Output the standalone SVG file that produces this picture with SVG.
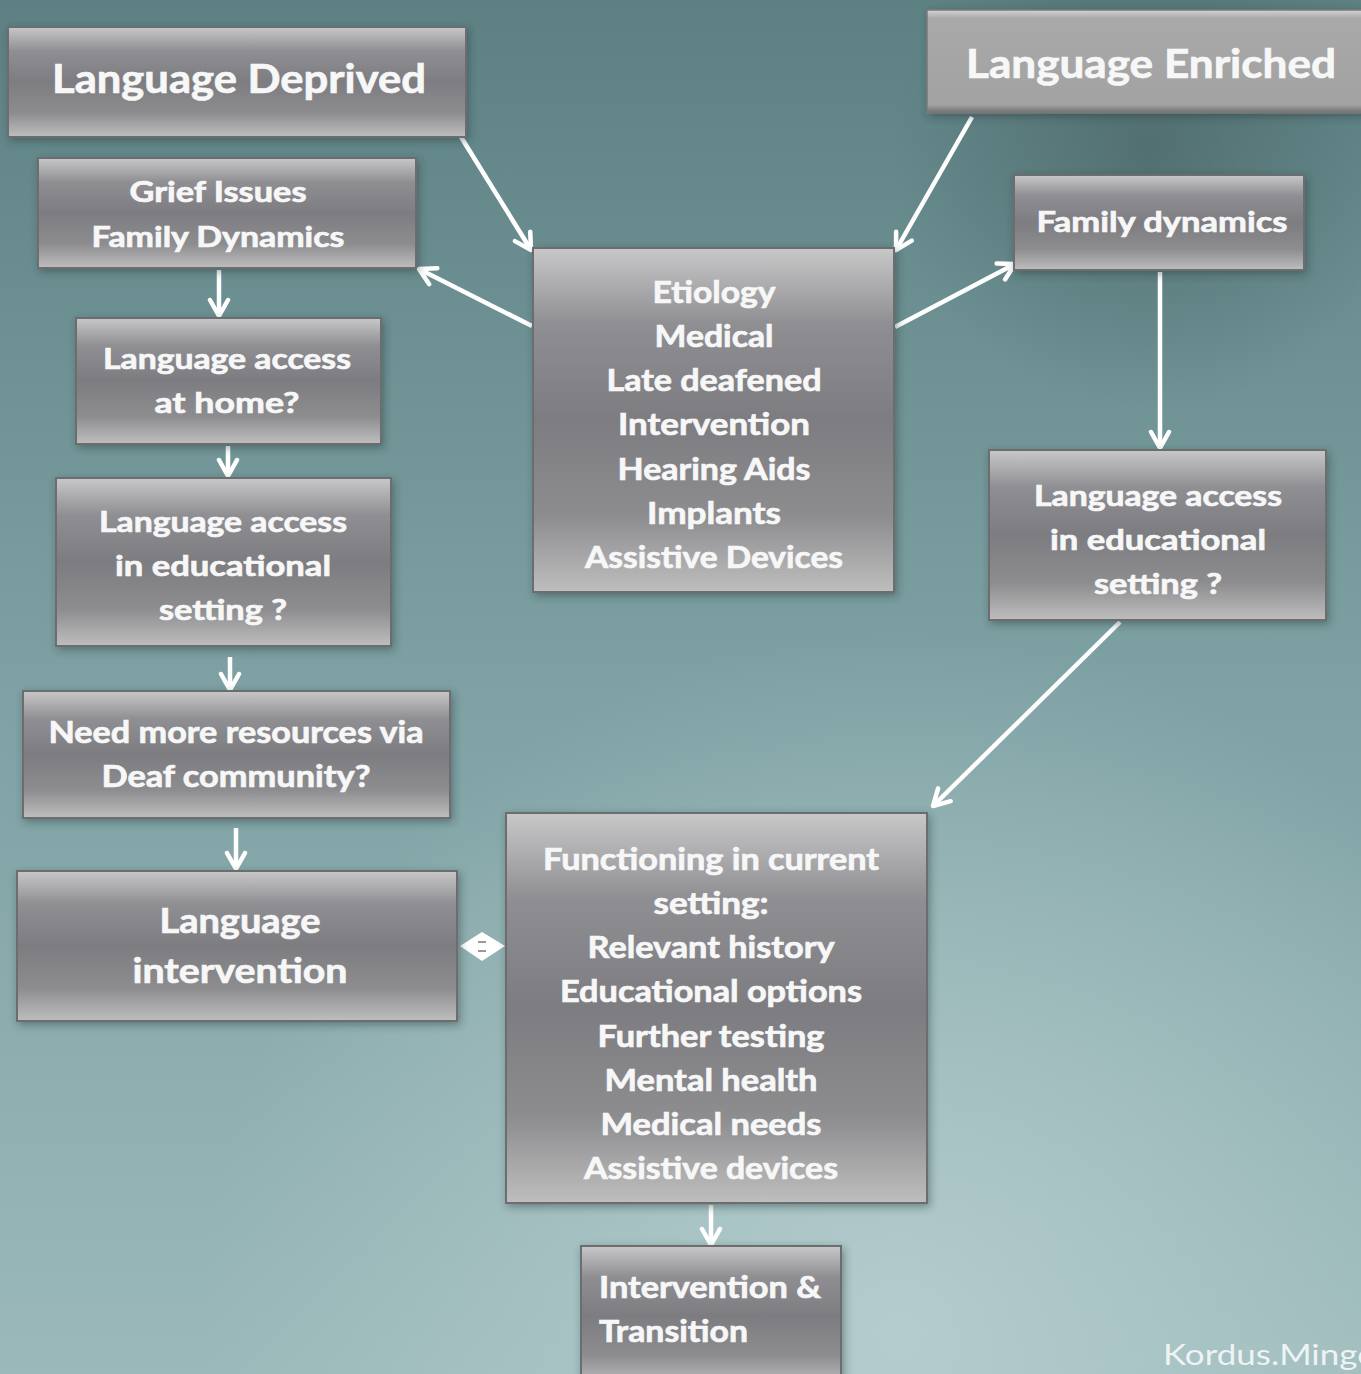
<svg xmlns="http://www.w3.org/2000/svg" width="1361" height="1374" viewBox="0 0 1361 1374">
<defs>
<linearGradient id="bg" x1="0" y1="0" x2="0" y2="1">
<stop offset="0" stop-color="#5d8183"/>
<stop offset="0.5" stop-color="#7ea1a3"/>
<stop offset="1" stop-color="#9bb9ba"/>
</linearGradient>
<radialGradient id="glow" cx="900" cy="1330" r="700" gradientUnits="userSpaceOnUse">
<stop offset="0" stop-color="#b6cecf" stop-opacity="0.9"/>
<stop offset="1" stop-color="#b6cecf" stop-opacity="0"/>
</radialGradient>
<radialGradient id="shade" cx="1150" cy="150" r="260" gradientUnits="userSpaceOnUse">
<stop offset="0" stop-color="#3c5253" stop-opacity="0.45"/>
<stop offset="1" stop-color="#3c5253" stop-opacity="0"/>
</radialGradient>
<linearGradient id="box" x1="0" y1="0" x2="0" y2="1">
<stop offset="0" stop-color="#c8c8c9"/>
<stop offset="0.22" stop-color="#8f8f93"/>
<stop offset="0.5" stop-color="#7d7d81"/>
<stop offset="0.78" stop-color="#8d8d90"/>
<stop offset="1" stop-color="#bebebe"/>
</linearGradient>
<linearGradient id="flat" x1="0" y1="0" x2="0" y2="1">
<stop offset="0" stop-color="#d4d4d4"/>
<stop offset="0.08" stop-color="#a9a9a9"/>
<stop offset="0.92" stop-color="#a2a2a2"/>
<stop offset="1" stop-color="#6e6e6e"/>
</linearGradient>
<filter id="sh" x="-10%" y="-10%" width="120%" height="125%">
<feDropShadow dx="2" dy="3" stdDeviation="4" flood-color="#203030" flood-opacity="0.45"/>
</filter>
<marker id="ah" viewBox="0 0 24 24" refX="21" refY="12" markerWidth="24" markerHeight="24" markerUnits="userSpaceOnUse" orient="auto">
<path d="M5,3 L21,12 L5,21" fill="none" stroke="#ffffff" stroke-width="4.5" stroke-linecap="round" stroke-linejoin="round"/>
</marker>
<style>
.b{fill:url(#box);stroke:#6d6d70;stroke-width:2;filter:url(#sh)}
.t{font-family:Lato,"Open Sans","Liberation Sans",sans-serif;font-weight:700;fill:#f7f7f7;stroke:#f7f7f7;stroke-width:0.7;text-anchor:middle}
.tl{font-family:Lato,"Open Sans","Liberation Sans",sans-serif;font-weight:700;fill:#f7f7f7;stroke:#f7f7f7;stroke-width:0.7;text-anchor:start}
.c{stroke:#ffffff;stroke-width:4.5;fill:none;marker-end:url(#ah)}
</style>
</defs>
<rect x="0" y="0" width="1361" height="1374" fill="url(#bg)"/>
<rect x="0" y="0" width="1361" height="1374" fill="url(#glow)"/>
<rect x="0" y="0" width="1361" height="1374" fill="url(#shade)"/>

<g id="connectors">
<line class="c" x1="461" y1="137" x2="531" y2="250"/>
<line class="c" x1="972" y1="117" x2="896" y2="250"/>
<line class="c" x1="532" y1="326" x2="419" y2="269"/>
<line class="c" x1="895" y1="327" x2="1015" y2="264"/>
<line class="c" x1="219" y1="270" x2="219" y2="316"/>
<line class="c" x1="228" y1="446" x2="228" y2="476"/>
<line class="c" x1="230" y1="657" x2="230" y2="690"/>
<line class="c" x1="236" y1="828" x2="236" y2="869"/>
<line class="c" x1="1160" y1="272" x2="1160" y2="448"/>
<line class="c" x1="1120" y1="622" x2="933" y2="806"/>
<line class="c" x1="711" y1="1205" x2="711" y2="1245"/>
<g id="double-arrow">
<polygon points="460,946 482,932 505,946 482,961" fill="#ffffff"/>
<rect x="478" y="941" width="8" height="2" fill="#9a9a9a"/>
<rect x="478" y="950" width="8" height="2" fill="#9a9a9a"/>
</g>
</g>

<g id="language-deprived">
<rect class="b" x="8" y="27" width="458" height="110"/>
<text class="t" x="239" y="93" font-size="40" textLength="374" lengthAdjust="spacingAndGlyphs">Language Deprived</text>
</g>

<g id="language-enriched">
<rect x="927" y="10" width="440" height="103" fill="url(#flat)" stroke="#7a7a7a" stroke-width="1.5" filter="url(#sh)"/>
<text class="tl" x="966" y="78" font-size="41" textLength="370" lengthAdjust="spacingAndGlyphs">Language Enriched</text>
</g>

<g id="grief">
<rect class="b" x="38" y="158" width="378" height="110"/>
<text class="t" x="218" y="202" font-size="28" textLength="177" lengthAdjust="spacingAndGlyphs">Grief Issues</text>
<text class="t" x="218" y="247" font-size="28" textLength="253" lengthAdjust="spacingAndGlyphs">Family Dynamics</text>
</g>

<g id="access-home">
<rect class="b" x="76" y="318" width="305" height="126"/>
<text class="t" x="227" y="369" font-size="29" textLength="248" lengthAdjust="spacingAndGlyphs">Language access</text>
<text class="t" x="227" y="413" font-size="29" textLength="145" lengthAdjust="spacingAndGlyphs">at home?</text>
</g>

<g id="access-edu-left">
<rect class="b" x="56" y="478" width="335" height="168"/>
<text class="t" x="223" y="532" font-size="29" textLength="248" lengthAdjust="spacingAndGlyphs">Language access</text>
<text class="t" x="223" y="576" font-size="29" textLength="216" lengthAdjust="spacingAndGlyphs">in educational</text>
<text class="t" x="223" y="620" font-size="29" textLength="128" lengthAdjust="spacingAndGlyphs">setting ?</text>
</g>

<g id="resources">
<rect class="b" x="23" y="691" width="427" height="127"/>
<text class="t" x="236" y="743" font-size="30" textLength="375" lengthAdjust="spacingAndGlyphs">Need more resources via</text>
<text class="t" x="236" y="787" font-size="30" textLength="269" lengthAdjust="spacingAndGlyphs">Deaf community?</text>
</g>

<g id="language-intervention">
<rect class="b" x="17" y="871" width="440" height="150"/>
<text class="t" x="240" y="933" font-size="35" textLength="161" lengthAdjust="spacingAndGlyphs">Language</text>
<text class="t" x="240" y="983" font-size="35" textLength="215" lengthAdjust="spacingAndGlyphs">intervention</text>
</g>

<g id="etiology">
<rect class="b" x="533" y="248" width="361" height="344"/>
<text class="t" x="714" y="303" font-size="31" textLength="123" lengthAdjust="spacingAndGlyphs">Etiology</text>
<text class="t" x="714" y="347" font-size="31" textLength="119" lengthAdjust="spacingAndGlyphs">Medical</text>
<text class="t" x="714" y="391" font-size="31" textLength="215" lengthAdjust="spacingAndGlyphs">Late deafened</text>
<text class="t" x="714" y="435" font-size="31" textLength="192" lengthAdjust="spacingAndGlyphs">Intervention</text>
<text class="t" x="714" y="480" font-size="31" textLength="193" lengthAdjust="spacingAndGlyphs">Hearing Aids</text>
<text class="t" x="714" y="524" font-size="31" textLength="134" lengthAdjust="spacingAndGlyphs">Implants</text>
<text class="t" x="714" y="568" font-size="31" textLength="258" lengthAdjust="spacingAndGlyphs">Assistive Devices</text>
</g>

<g id="family-dynamics">
<rect class="b" x="1014" y="175" width="290" height="95"/>
<text class="t" x="1162" y="232" font-size="29" textLength="251" lengthAdjust="spacingAndGlyphs">Family dynamics</text>
</g>

<g id="access-edu-right">
<rect class="b" x="989" y="450" width="337" height="170"/>
<text class="t" x="1158" y="506" font-size="29" textLength="248" lengthAdjust="spacingAndGlyphs">Language access</text>
<text class="t" x="1158" y="550" font-size="29" textLength="216" lengthAdjust="spacingAndGlyphs">in educational</text>
<text class="t" x="1158" y="594" font-size="29" textLength="128" lengthAdjust="spacingAndGlyphs">setting ?</text>
</g>

<g id="functioning">
<rect class="b" x="506" y="813" width="421" height="390"/>
<text class="t" x="711" y="870" font-size="30" textLength="336" lengthAdjust="spacingAndGlyphs">Functioning in current</text>
<text class="t" x="711" y="914" font-size="30" textLength="115" lengthAdjust="spacingAndGlyphs">setting:</text>
<text class="t" x="711" y="958" font-size="30" textLength="247" lengthAdjust="spacingAndGlyphs">Relevant history</text>
<text class="t" x="711" y="1002" font-size="30" textLength="302" lengthAdjust="spacingAndGlyphs">Educational options</text>
<text class="t" x="711" y="1047" font-size="30" textLength="227" lengthAdjust="spacingAndGlyphs">Further testing</text>
<text class="t" x="711" y="1091" font-size="30" textLength="213" lengthAdjust="spacingAndGlyphs">Mental health</text>
<text class="t" x="711" y="1135" font-size="30" textLength="221" lengthAdjust="spacingAndGlyphs">Medical needs</text>
<text class="t" x="711" y="1179" font-size="30" textLength="254" lengthAdjust="spacingAndGlyphs">Assistive devices</text>
</g>

<g id="transition">
<rect class="b" x="581" y="1246" width="260" height="140"/>
<text class="tl" x="599" y="1298" font-size="30" textLength="222" lengthAdjust="spacingAndGlyphs">Intervention &amp;</text>
<text class="tl" x="599" y="1342" font-size="30" textLength="149" lengthAdjust="spacingAndGlyphs">Transition</text>
</g>

<text x="1163" y="1365" font-family="Lato,'Open Sans','Liberation Sans',sans-serif" font-size="28" fill="#eef3f3" textLength="214" lengthAdjust="spacingAndGlyphs">Kordus.Mingo</text>
</svg>
